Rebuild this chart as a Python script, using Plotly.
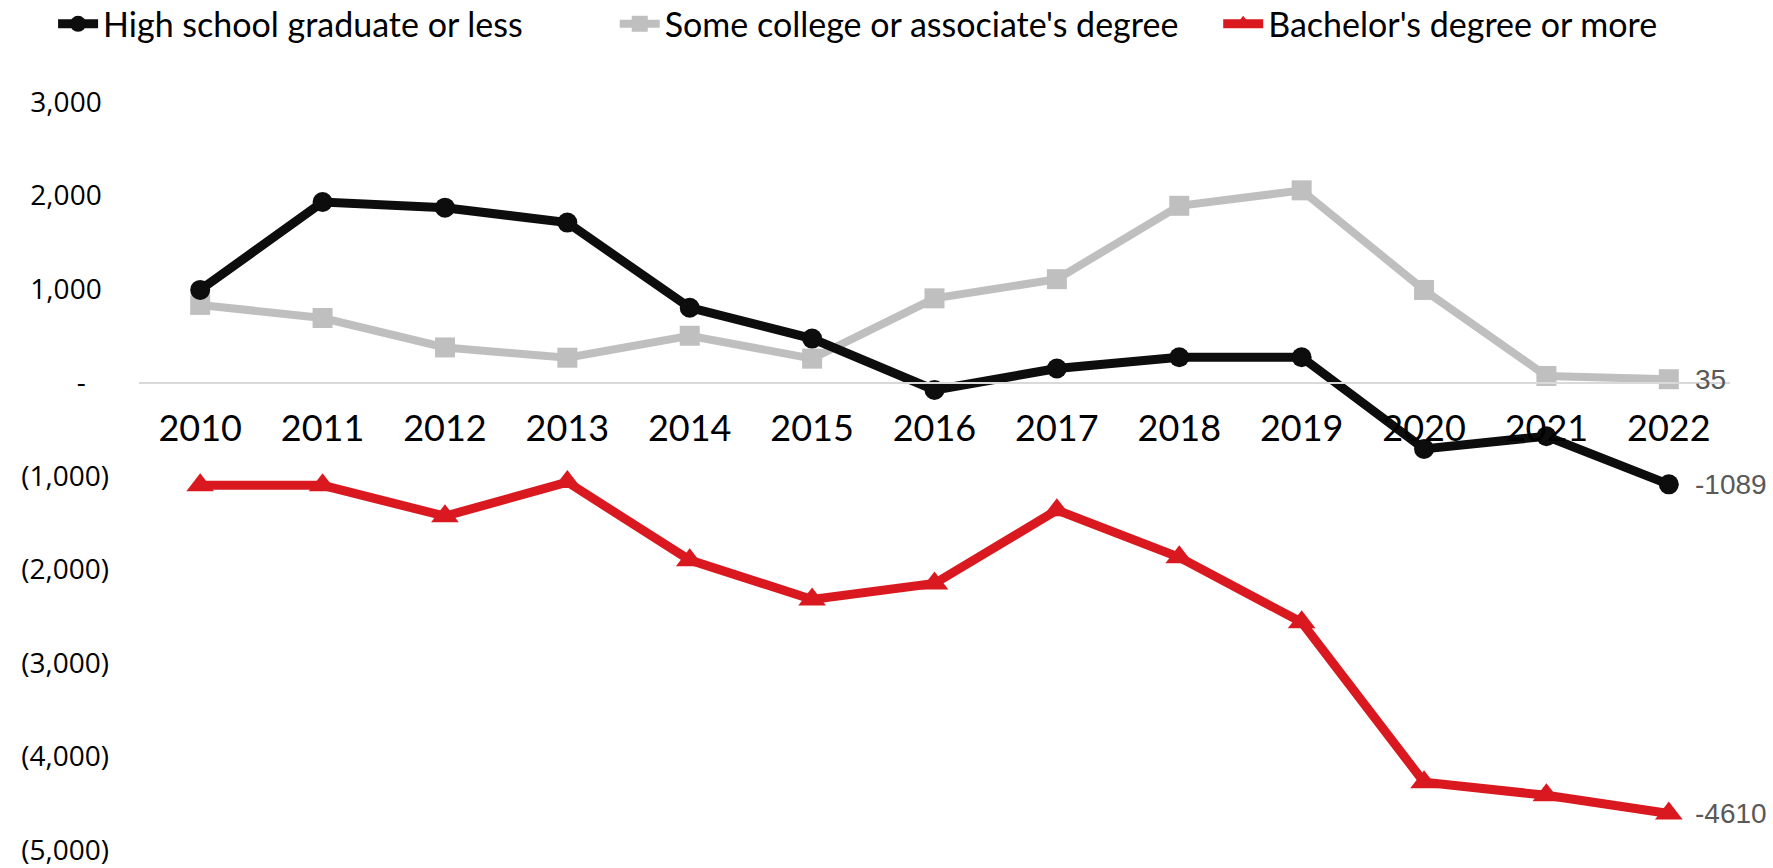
import plotly.graph_objects as go

years = ["2010", "2011", "2012", "2013", "2014", "2015", "2016",
         "2017", "2018", "2019", "2020", "2021", "2022"]
high_school = [990, 1930, 1870, 1710, 800, 470, -80, 150, 270, 270, -710, -575, -1089]
some_college = [830, 690, 375, 265, 500, 255, 900, 1105, 1890, 2055, 990, 70, 35]
bachelors = [-1100, -1100, -1430, -1065, -1900, -2320, -2150, -1365, -1870, -2565, -4275, -4415, -4610]

y_ticks = [3000, 2000, 1000, 0, -1000, -2000, -3000, -4000, -5000]
# accounting style: positives padded by a paren-width space, zero shown as a dash
y_tick_text = ["3,000\u2008", "2,000\u2008", "1,000\u2008", "-\u2007\u2008",
               "(1,000)", "(2,000)", "(3,000)", "(4,000)", "(5,000)"]

BLACK = "#0d0d0d"
GRAY = "#bfbfbf"
RED = "#d9191f"
NB = "\u00a0"

fig = go.Figure()
fig.add_trace(go.Scatter(
    x=years, y=some_college, name="Some college or associate's degree" + NB * 4,
    mode="lines+markers", line=dict(color=GRAY, width=8),
    marker=dict(symbol="square", size=20, color=GRAY), legendrank=2))
fig.add_trace(go.Scatter(
    x=years, y=high_school, name="High school graduate or less" + NB * 10,
    mode="lines+markers", line=dict(color=BLACK, width=9),
    marker=dict(symbol="circle", size=20, color=BLACK), legendrank=1))
fig.add_trace(go.Scatter(
    x=years, y=bachelors, name="Bachelor's degree or more",
    mode="lines+markers", line=dict(color=RED, width=9),
    marker=dict(symbol="triangle-up", size=24, color=RED), legendrank=3))

# end-of-line value labels
last = len(years) - 1
for series in (high_school, some_college, bachelors):
    fig.add_annotation(x=last, y=series[-1], xref="x", yref="y", text=str(series[-1]),
                       xanchor="left", yanchor="middle", xshift=24, showarrow=False,
                       font=dict(family="Liberation Sans Narrow, Arial Narrow, Liberation Sans",
                                 size=28, color="#595959"))

fig.update_layout(
    width=1773, height=868,
    margin=dict(l=139, r=43, t=102, b=18, autoexpand=False),
    paper_bgcolor="white", plot_bgcolor="white",
    showlegend=True,
    legend=dict(orientation="h", x=-0.054, xanchor="left", y=1.104, yanchor="middle",
                font=dict(family="Lato", size=34, color="black"),
                itemwidth=40, traceorder="normal"),
    xaxis=dict(type="category", range=[-0.5, 12.5], anchor="free", position=0.625,
               showline=True, linecolor="#d9d9d9", linewidth=2, showgrid=False,
               ticks="", ticklabelstandoff=14,
               tickfont=dict(family="Lato", size=36, color="black")),
    yaxis=dict(range=[-5000, 3000], tickvals=y_ticks, ticktext=y_tick_text,
               showgrid=False, zeroline=False, showline=False, ticks="",
               ticklabelstandoff=29,
               tickfont=dict(family="Open Sans", size=28, color="black")),
)

fig.write_html("out.html")
